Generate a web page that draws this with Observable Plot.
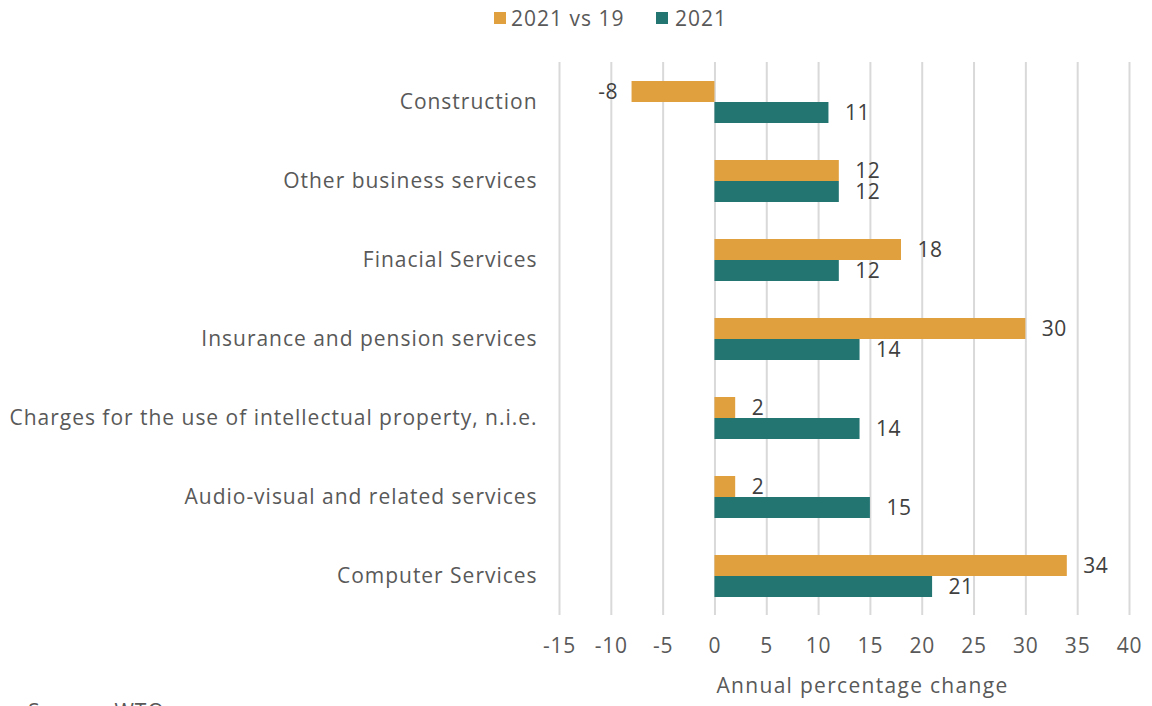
<!DOCTYPE html>
<html>
<head>
<meta charset="utf-8">
<script src="https://cdn.jsdelivr.net/npm/d3@7"></script>
<script src="https://cdn.jsdelivr.net/npm/@observablehq/plot@0.6"></script>
<style>
  html, body { margin: 0; padding: 0; background: #fff; overflow: hidden; }
  body { width: 1152px; height: 706px; position: relative; font-family: "Open Sans", sans-serif; }
  #legend { height: 38px; position: relative; font-size: 21px; color: #595959; letter-spacing: 1px; }
  #legend .sw { position: absolute; top: 12px; width: 12px; height: 12px; }
  #legend .lbl { position: absolute; top: 4px; line-height: 28px; white-space: nowrap; }
  #source { position: absolute; left: 28px; top: 697px; font-size: 21px; color: #595959; letter-spacing: 1px; }
  svg [aria-label="y-axis tick label"] text { letter-spacing: 0.98px; }
  svg [aria-label="x-axis tick label"] text { letter-spacing: 0.8px; }
  svg .axis-title text { letter-spacing: 1.3px; }
  svg .value-label text { letter-spacing: 0.5px; }
</style>
</head>
<body>
<div id="legend"></div>
<div id="chart"></div>
<div id="source">Source: WTO</div>
<script>
const categories = [
  "Construction",
  "Other business services",
  "Finacial Services",
  "Insurance and pension services",
  "Charges for the use of intellectual property, n.i.e.",
  "Audio-visual and related services",
  "Computer Services"
];
const seriesNames = ["2021 vs 19", "2021"];
const values2021vs19 = [-8, 12, 18, 30, 2, 2, 34];
const values2021 = [11, 12, 12, 14, 14, 15, 21];
const xTicks = [-15, -10, -5, 0, 5, 10, 15, 20, 25, 30, 35, 40];
const colors = ["#E1A03E", "#237572"];

const legend = document.getElementById("legend");
const legendPos = [[494, 511], [656, 675]];
seriesNames.forEach((s, i) => {
  const sw = document.createElement("span");
  sw.className = "sw";
  sw.style.left = legendPos[i][0] + "px";
  sw.style.background = colors[i];
  const lb = document.createElement("span");
  lb.className = "lbl";
  lb.style.left = legendPos[i][1] + "px";
  lb.textContent = s;
  legend.appendChild(sw);
  legend.appendChild(lb);
});

const rowsA = categories.map((c, i) => ({category: c, value: values2021vs19[i]}));
const rowsB = categories.map((c, i) => ({category: c, value: values2021[i]}));

const H = 668;
const quarter = 10.5;

const chart = Plot.plot({
  width: 1152,
  height: H,
  marginLeft: 559,
  marginRight: 23,
  marginTop: 24,
  marginBottom: 91,
  style: {fontFamily: "'Open Sans', sans-serif", fontSize: "20px", color: "#595959", background: "#fff"},
  x: {domain: [-15, 40], ticks: xTicks},
  y: {domain: categories, paddingInner: 0.47, paddingOuter: 0.22},
  marks: [
    Plot.ruleX(xTicks, {stroke: "#d9d9d9", strokeWidth: 2}),
    Plot.barX(rowsA, {x: "value", y: "category", fill: colors[0], insetBottom: 21}),
    Plot.barX(rowsB, {x: "value", y: "category", fill: colors[1], insetTop: 21}),
    Plot.text(rowsA.filter(d => d.value >= 0), {x: "value", y: "category", text: d => String(d.value), dy: -quarter, dx: 16, textAnchor: "start", fill: "#404040", fontSize: 21, className: "value-label"}),
    Plot.text(rowsA.filter(d => d.value < 0), {x: "value", y: "category", text: d => String(d.value), dy: -quarter, dx: -14, textAnchor: "end", fill: "#404040", fontSize: 21, className: "value-label"}),
    Plot.text(rowsB, {x: "value", y: "category", text: d => String(d.value), dy: quarter, dx: 16, textAnchor: "start", fill: "#404040", fontSize: 21, className: "value-label"}),
    Plot.axisX({ticks: xTicks, tickFormat: d => String(d), tickSize: 0, tickPadding: 23, label: null, fontSize: 21, fill: "#595959"}),
    Plot.axisY({tickSize: 0, tickPadding: 22, label: null, fontSize: 21, fill: "#595959"}),
    Plot.text(["Annual percentage change"], {frameAnchor: "bottom", dx: 18, dy: 77, fontSize: 21, fill: "#595959", className: "axis-title"})
  ]
});
document.getElementById("chart").appendChild(chart);
</script>
</body>
</html>
